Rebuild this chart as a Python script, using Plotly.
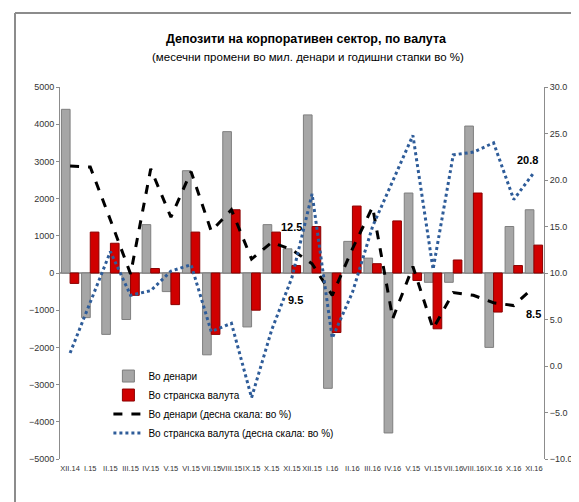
import plotly.graph_objects as go

# Категории (месеци)
months = [
    "XII.14", "I.15", "II.15", "III.15", "IV.15", "V.15", "VI.15", "VII.15",
    "VIII.15", "IX.15", "X.15", "XI.15", "XII.15", "I.16", "II.16", "III.16",
    "IV.16", "V.15", "VI.15", "VII.16", "VIII.16", "IX.16", "X.16", "XI.16",
]
# месечни промени, мил. денари
chg_denars = [
    4400, -1200, -1650, -1250, 1300, -500, 2750, -2200, 3800, -1450, 1300, 650,
    4250, -3100, 850, 400, -4300, 2150, -250, -250, 3950, -2000, 1250, 1700,
]
chg_foreign = [
    -280, 1100, 800, -600, 120, -850, 1100, -1650, 1700, -1000, 1100, 200,
    1250, -1600, 1800, 250, 1400, -200, -1500, 350, 2150, -1050, 200, 750,
]
# годишни стапки, %
yoy_denars = [
    21.5, 21.4, 15.7, 9.9, 21.2, 16.0, 20.9, 14.5, 16.8, 11.5, 13.3, 12.5,
    11.0, 7.6, 12.6, 17.1, 5.1, 10.7, 4.0, 7.9, 7.6, 6.8, 6.5, 8.5,
]
yoy_foreign = [
    1.4, 6.9, 12.3, 7.6, 8.1, 10.2, 10.9, 3.7, 4.6, -3.4, 3.9, 9.5,
    18.5, 3.0, 7.9, 15.0, 20.0, 24.8, 10.4, 22.7, 23.0, 24.0, 17.9, 20.8,
]
left_ticks = list(range(-5000, 5001, 1000))
right_ticks = [-10, -5, 0, 5, 10, 15, 20, 25, 30]

FONT = "Liberation Sans, Arial, sans-serif"
# месеците се повторуваат (V.15, VI.15), па x оската е по редни броеви
xs = list(range(len(months)))

fig = go.Figure()

# Столбови
fig.add_trace(go.Bar(
    x=xs, y=chg_denars, name="Во денари",
    marker=dict(color="#A6A6A6", line=dict(color="#7F7F7F", width=1)),
))
fig.add_trace(go.Bar(
    x=xs, y=chg_foreign, name="Во странска валута",
    marker=dict(color="#D00000", line=dict(color="#8B0000", width=1)),
))

# Линии на десна скала
fig.add_trace(go.Scatter(
    x=xs, y=yoy_denars, yaxis="y2", mode="lines",
    name="Во денари (десна скала: во %)",
    line=dict(color="black", width=3, dash="dash"),
))
fig.add_trace(go.Scatter(
    x=xs, y=yoy_foreign, yaxis="y2", mode="lines",
    name="Во странска валута (десна скала: во %)",
    line=dict(color="#2E5C99", width=3, dash="dot"),
))

# Ознаки на вредности
labels = [
    (11, yoy_denars[11], 0, 23),
    (11, yoy_foreign[11], 4, -22),
    (23, yoy_foreign[23], -6, 13),
    (23, yoy_denars[23], 0, -27),
]
for xv, yv, dx, dy in labels:
    fig.add_annotation(
        x=xv, y=yv, xref="x", yref="y2", text=f"<b>{yv:.1f}</b>",
        showarrow=False, xshift=dx, yshift=dy,
        font=dict(family=FONT, size=11, color="black"),
    )

# Наслов
fig.add_annotation(
    x=(298 - 52) / 484, y=(451 - 31) / 372, xref="paper", yref="paper",
    yanchor="middle", xanchor="center", showarrow=False,
    text="<b>Депозити на корпоративен сектор, по валута</b>",
    font=dict(family=FONT, size=12.5, color="black"),
)
fig.add_annotation(
    x=(300 - 52) / 484, y=(451 - 49) / 372, xref="paper", yref="paper",
    yanchor="middle", xanchor="center", showarrow=False,
    text="(месечни промени во мил. денари и годишни стапки во %)",
    font=dict(family=FONT, size=11.5, color="black"),
)

# Рамка
fig.add_shape(type="line", xref="paper", yref="paper",
              x0=-45 / 484, x1=521 / 484, y0=1 + 74 / 372, y1=1 + 74 / 372,
              line=dict(color="#8C8C8C", width=2))
fig.add_shape(type="line", xref="paper", yref="paper",
              x0=-45 / 484, x1=-45 / 484, y0=1 + 74 / 372, y1=-51 / 372,
              line=dict(color="#8C8C8C", width=2))

fig.update_layout(
    width=579, height=502,
    margin=dict(l=52, r=43, t=79, b=51),
    plot_bgcolor="white", paper_bgcolor="white",
    barmode="group", bargap=0.14, bargroupgap=0.0,
    font=dict(family=FONT, size=10, color="#333333"),
    showlegend=True,
    legend=dict(
        x=0.10, y=0.262, xanchor="left", yanchor="top",
        bgcolor="rgba(0,0,0,0)", font=dict(family=FONT, size=10, color="black"),
        tracegroupgap=0, itemwidth=30,
    ),
    xaxis=dict(
        range=[-0.5, len(months) - 0.5],
        tickvals=xs, ticktext=months, tickangle=0,
        showline=False, showgrid=False, zeroline=False, ticks="",
        tickfont=dict(family=FONT, size=7.5, color="#333333"),
        ticklabelstandoff=3,
    ),
    yaxis=dict(
        range=[-5000, 5000], tickvals=left_ticks, showgrid=False,
        showline=True, linecolor="#8C8C8C", linewidth=1,
        ticks="outside", ticklen=3, tickcolor="#8C8C8C",
        zeroline=True, zerolinecolor="#A0A0A0", zerolinewidth=1.5,
        tickfont=dict(family=FONT, size=9, color="#333333"),
    ),
    yaxis2=dict(
        range=[-10, 30], tickvals=right_ticks, overlaying="y", side="right",
        tickformat=".1f", showgrid=False, zeroline=False,
        showline=True, linecolor="#8C8C8C", linewidth=1,
        ticks="outside", ticklen=3, tickcolor="#8C8C8C",
        tickfont=dict(family=FONT, size=9, color="#333333"),
    ),
)

fig.write_html("out.html")
